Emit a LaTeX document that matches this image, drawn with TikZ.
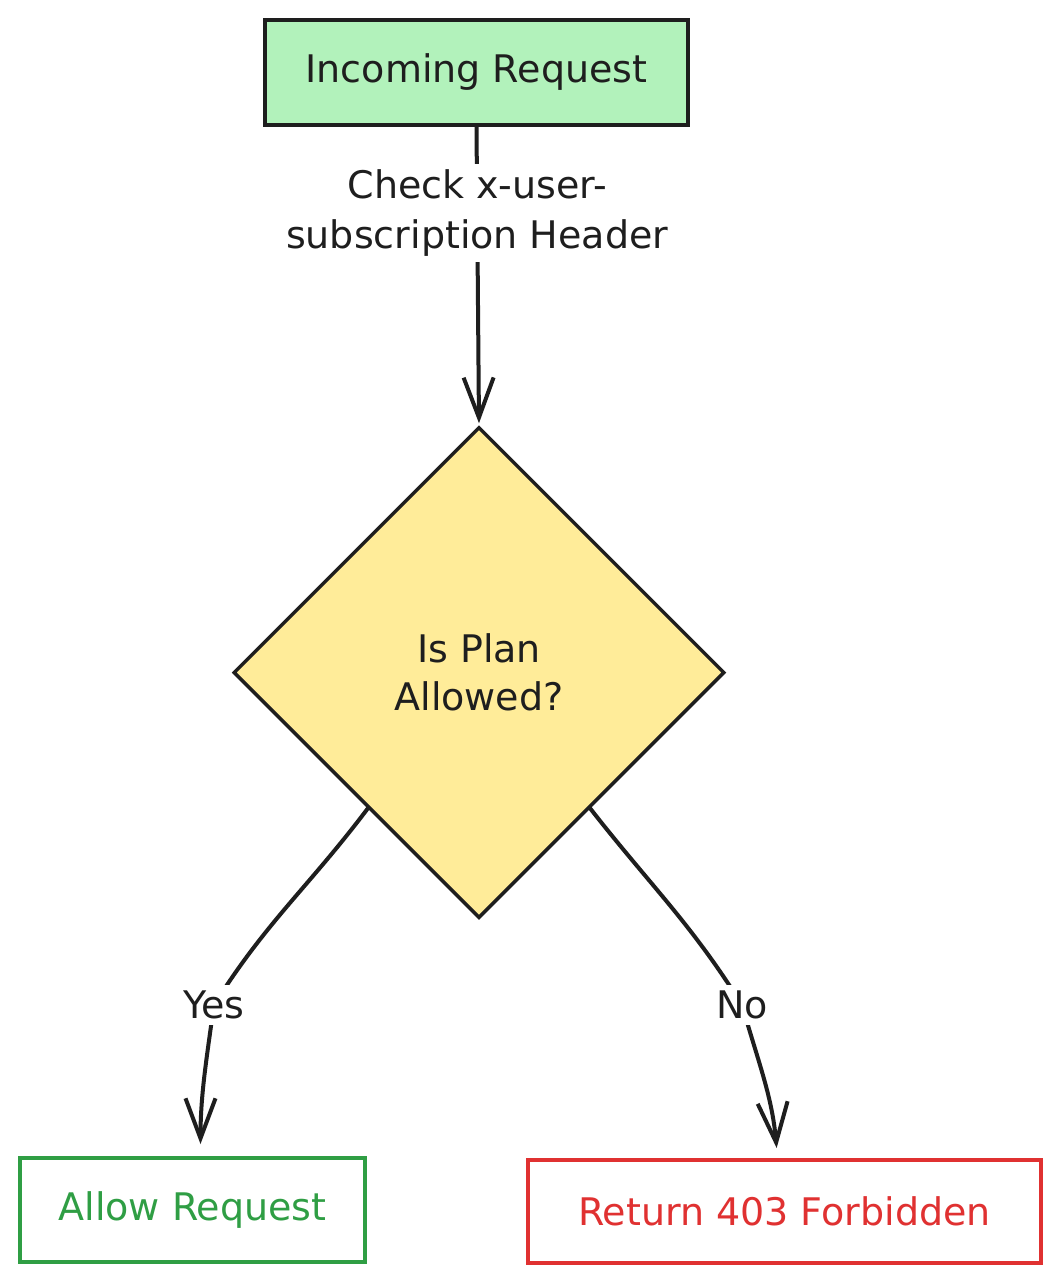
\documentclass[tikz,border=0pt]{standalone}
\usepackage{fontspec}
\setmainfont{DejaVu Sans}
\usetikzlibrary{arrows.meta,shapes.geometric,calc}
\definecolor{ink}{HTML}{1E1E1E}
\definecolor{lgreen}{HTML}{B2F2BB}
\definecolor{lyellow}{HTML}{FFEC99}
\definecolor{dgreen}{HTML}{2F9E44}
\definecolor{dred}{HTML}{E03131}
\tikzset{
  box/.style={draw=ink, line width=4pt, rectangle, inner sep=0pt, align=center,
    font=\fontsize{38}{50}\selectfont},
  decision/.style={draw=ink, fill=lyellow, line width=3.5pt, diamond, inner sep=0pt,
    minimum width=491pt, minimum height=491pt, align=center, text=ink,
    font=\fontsize{38}{48}\selectfont},
  conn/.style={draw=ink, line width=4pt, line cap=round,
    -{Straight Barb[length=40pt,width=30pt]}},
  lbl/.style={fill=white, inner sep=6pt, text=ink, align=center,
    font=\fontsize{38}{50}\selectfont}
}
\begin{document}
\begin{tikzpicture}[x=1pt,y=1pt]
\useasboundingbox (0,0) rectangle (1060,-1283);
\fill[white] (0,0) rectangle (1060,-1283);

\node[box, fill=lgreen, text=ink, minimum width=423pt, minimum height=105pt] (top) at (476.5,-72.5) {Incoming Request};
\node[decision] (dia) at (479,-672.5) {Is Plan\\Allowed?};
\node[box, draw=dgreen, text=dgreen, minimum width=345pt, minimum height=104pt] (allow) at (192.5,-1210) {Allow Request};
\node[box, draw=dred, text=dred, minimum width=513pt, minimum height=103pt] (ret) at (784.5,-1211.5) {Return 403 Forbidden};

\coordinate (ys) at ($(dia.south)!0.45!(dia.west)$);
\coordinate (ns) at ($(dia.south)!0.45!(dia.east)$);
\coordinate (yesc) at (214,-1005);
\coordinate (noc) at (742,-1005);

\draw[conn, shorten >=2pt] (top.south) -- node[lbl, pos=0.288] (chk) {Check x-user-\\subscription Header} (dia.north);

\draw[conn, shorten >=12pt] (ys) to[out=-127, in=58] (yesc) to[out=-98, in=90] ([xshift=8pt]allow.north);
\node[lbl] (yes) at (yesc) {Yes};

\draw[conn, shorten >=10pt] (ns) to[out=-52, in=122] (noc) to[out=-74, in=95] ([xshift=-7pt]ret.north);
\node[lbl] (no) at (noc) {No};
\end{tikzpicture}
\end{document}
